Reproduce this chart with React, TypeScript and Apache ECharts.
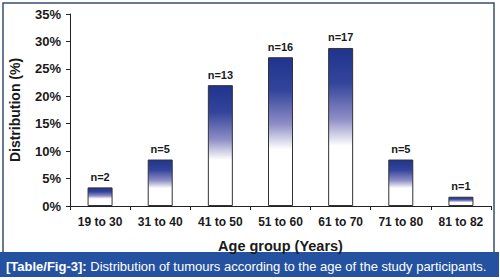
import React, { useEffect, useRef } from "react";
import * as echarts from "echarts";

const categories = ["19 to 30", "31 to 40", "41 to 50", "51 to 60", "61 to 70", "71 to 80", "81 to 82"];
const percentValues = [3.39, 8.47, 22.03, 27.12, 28.81, 8.47, 1.69];
const countLabels = ["n=2", "n=5", "n=13", "n=16", "n=17", "n=5", "n=1"];
const yTicks = [0, 5, 10, 15, 20, 25, 30, 35];

const FONT = "'Liberation Sans', Arial, sans-serif";

export default function App() {
  const ref = useRef<HTMLDivElement>(null);
  useEffect(() => {
    document.body.style.margin = "0";
    const chart = echarts.init(ref.current!, undefined, { renderer: "svg" });
    const gradient = new echarts.graphic.LinearGradient(0, 0, 0, 1, [
      { offset: 0, color: "#1f348e" },
      { offset: 0.22, color: "#33449b" },
      { offset: 0.45, color: "#8e8ec6" },
      { offset: 0.62, color: "#ffffff" },
      { offset: 1, color: "#ffffff" },
    ]);
    chart.setOption({
      animation: false,
      backgroundColor: "#ffffff",
      textStyle: { fontFamily: FONT },
      grid: { left: 61, right: 9, top: 14, bottom: 74, containLabel: false },
      xAxis: {
        type: "category",
        data: categories,
        name: "Age group (Years)",
        nameLocation: "middle",
        nameGap: 32,
        nameTextStyle: { fontFamily: FONT, fontWeight: "bold", fontSize: 14.5, color: "#1a1a1a" },
        axisLine: { lineStyle: { color: "#222", width: 1 } },
        axisTick: { show: true, alignWithLabel: false, length: 4, lineStyle: { color: "#222" } },
        axisLabel: { fontFamily: FONT, fontWeight: "bold", fontSize: 12, color: "#1a1a1a", margin: 10, interval: 0 },
      },
      yAxis: {
        type: "value",
        min: yTicks[0],
        max: yTicks[yTicks.length - 1],
        interval: 5,
        name: "Distribution (%)",
        nameLocation: "middle",
        nameGap: 48,
        nameTextStyle: { fontFamily: FONT, fontWeight: "bold", fontSize: 14, color: "#1a1a1a" },
        axisLine: { show: true, lineStyle: { color: "#222", width: 1 } },
        axisTick: { show: true, length: 4, lineStyle: { color: "#222" } },
        splitLine: { show: false },
        axisLabel: { fontFamily: FONT, fontWeight: "bold", fontSize: 13, color: "#1a1a1a", margin: 9, formatter: "{value}%" },
      },
      series: [
        {
          type: "bar",
          data: percentValues,
          barWidth: 25,
          itemStyle: { color: gradient, borderColor: "#333", borderWidth: 1 },
          label: {
            show: true,
            position: "top",
            distance: 5,
            fontFamily: FONT,
            fontWeight: "bold",
            fontSize: 11,
            color: "#1a1a1a",
            formatter: (p: any) => countLabels[p.dataIndex],
          },
        },
      ],
      graphic: [
        {
          type: "rect",
          shape: { x: 3, y: 3, width: 491, height: 252 },
          style: { fill: "none", stroke: "#34506e", lineWidth: 1.5 },
          silent: true,
        },
        {
          type: "rect",
          shape: { x: 0, y: 252, width: 499, height: 25 },
          style: { fill: "#2552a0" },
          silent: true,
        },
        {
          type: "text",
          x: 6,
          y: 266,
          style: {
            text: "{b|[Table/Fig-3]:} Distribution of tumours according to the age of the study participants.",
            fill: "#ffffff",
            font: `13px ${FONT}`,
            verticalAlign: "middle",
            rich: {
              b: { fontWeight: "bold", fontSize: 13, fontFamily: FONT, fill: "#ffffff" },
            },
          },
          silent: true,
        },
      ],
    });
    return () => chart.dispose();
  }, []);
  return <div ref={ref} style={{ position: "absolute", left: 0, top: 0, width: 500, height: 280 }} />;
}
